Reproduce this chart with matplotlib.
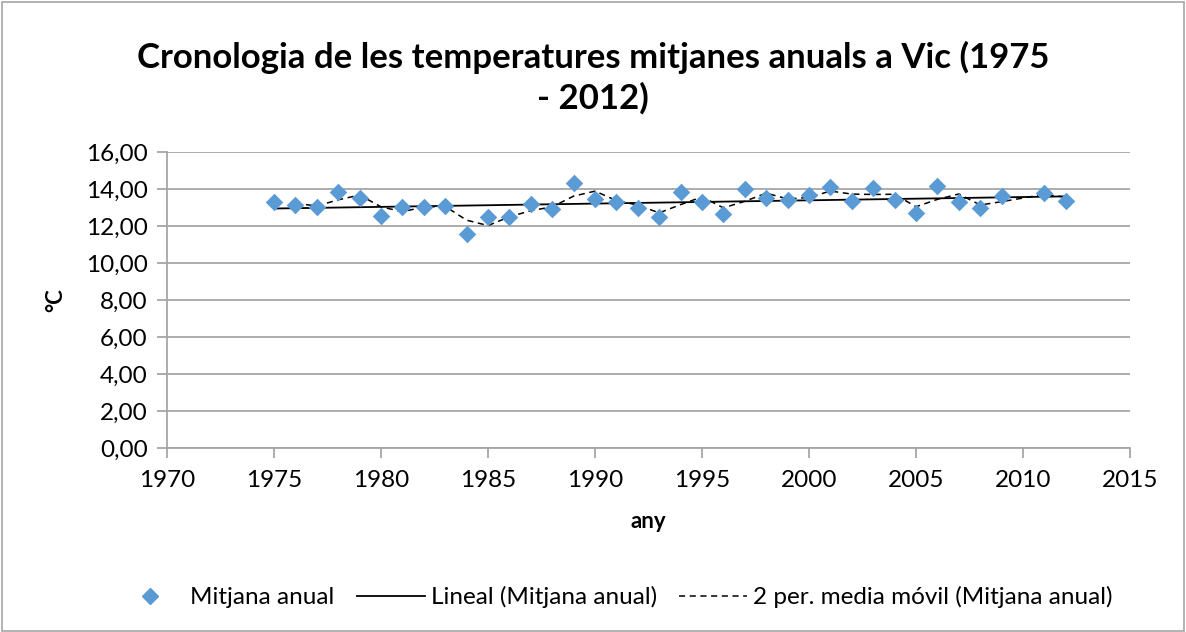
import numpy as np
import matplotlib
matplotlib.use("Agg")
import matplotlib.pyplot as plt
from matplotlib.lines import Line2D
from matplotlib.patches import Rectangle

# annual mean temperatures at Vic (2010 missing in source)
years = [1975, 1976, 1977, 1978, 1979, 1980, 1981, 1982, 1983, 1984,
         1985, 1986, 1987, 1988, 1989, 1990, 1991, 1992, 1993, 1994,
         1995, 1996, 1997, 1998, 1999, 2000, 2001, 2002, 2003, 2004,
         2005, 2006, 2007, 2008, 2009, 2011, 2012]
temps = [13.31, 13.15, 13.01, 13.82, 13.53, 12.54, 13.01, 13.04, 13.08, 11.55,
         12.50, 12.49, 13.17, 12.90, 14.33, 13.44, 13.31, 12.95, 12.47, 13.84,
         13.31, 12.65, 14.02, 13.53, 13.40, 13.69, 14.09, 13.36, 14.05, 13.38,
         12.70, 14.18, 13.28, 12.99, 13.64, 13.78, 13.33]
y_ticks = [0, 2, 4, 6, 8, 10, 12, 14, 16]
x_ticks = [1970, 1975, 1980, 1985, 1990, 1995, 2000, 2005, 2010, 2015]

plt.rcParams['font.family'] = ['Lato', 'DejaVu Sans']

yrs = np.array(years, dtype=float)
t = np.array(temps)

# linear trend + 2-period moving average
slope, icpt = np.polyfit(yrs, t, 1)
trend_x = np.array([yrs[0], yrs[-1]])
trend_y = slope * trend_x + icpt
ma_x = yrs[1:]
ma_y = (t[1:] + t[:-1]) / 2

fig = plt.figure(figsize=(11.86, 6.32), dpi=100)
ax = fig.add_axes([0.1408, 0.2911, 0.812, 0.4684])

ax.plot(trend_x, trend_y, color='black', lw=1.3, zorder=2)
ax.plot(ma_x, ma_y, color='black', lw=1.1, ls=(0, (4, 3)), zorder=2)
ax.scatter(yrs, t, marker='D', s=80, color='#5b9bd5', zorder=3, linewidths=0)

ax.set_xlim(1970, 2015)
ax.set_ylim(0, 16)
ax.set_xticks(x_ticks)
ax.set_yticks(y_ticks)
ax.set_yticklabels([f"{v:.2f}".replace('.', ',') for v in y_ticks])
ax.grid(axis='y', color='#a6a6a6', lw=1.3)
ax.set_axisbelow(True)
for s in ['top', 'right']:
    ax.spines[s].set_visible(False)
for s in ['left', 'bottom']:
    ax.spines[s].set_color('#a6a6a6')
    ax.spines[s].set_linewidth(1.3)
ax.tick_params(axis='both', colors='#a6a6a6', labelcolor='black', labelsize=17.5,
               length=7, width=1.3, direction='out')
ax.tick_params(axis='x', pad=9)
ax.tick_params(axis='y', pad=7)

ax.set_xlabel('any', fontsize=16, fontweight='bold', labelpad=14)
ax.set_ylabel('°C', fontsize=16, fontweight='bold', labelpad=14)
fig.text(0.5, 0.935, 'Cronologia de les temperatures mitjanes anuals a Vic (1975\n- 2012)',
         ha='center', va='top', fontsize=25, fontweight='bold', linespacing=1.3)

handles = [
    Line2D([], [], marker='D', color='#5b9bd5', ls='none', markersize=8),
    Line2D([], [], color='black', lw=1.3),
    Line2D([], [], color='black', lw=1.1, ls=(0, (4, 3))),
]
labels = ['Mitjana anual', 'Lineal (Mitjana anual)', '2 per. media móvil (Mitjana anual)']
fig.legend(handles, labels, loc='center', bbox_to_anchor=(0.518, 0.055), ncol=3,
           frameon=False, fontsize=17.5, handlelength=2.8, handletextpad=0.25,
           columnspacing=0.9)

fig.add_artist(Rectangle((0.002, 0.002), 0.996, 0.995, transform=fig.transFigure,
                         fill=False, edgecolor='#a6a6a6', lw=1.2))

fig.savefig('out.png', dpi=100)
